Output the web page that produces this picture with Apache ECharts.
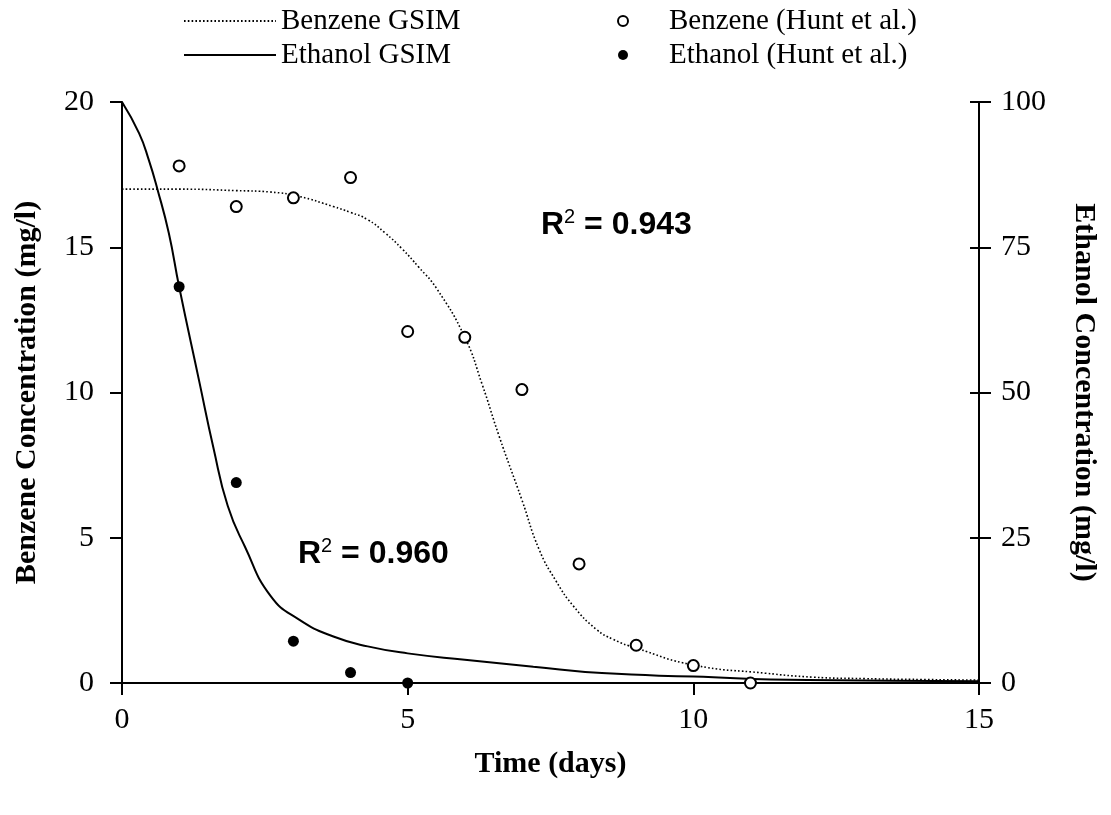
<!DOCTYPE html>
<html>
<head>
<meta charset="utf-8">
<title>Benzene and Ethanol Concentration</title>
<script src="https://cdn.jsdelivr.net/npm/echarts@6/dist/echarts.min.js"></script>
<style>
  html, body { margin: 0; padding: 0; background: #fff; }
  #chart { width: 1111px; height: 815px; }
</style>
</head>
<body>
<div id="chart"></div>
<script>
// Measured concentrations (Hunt et al.)
const obsDays = [1, 2, 3, 4, 5, 6, 7, 8, 9, 10, 11];
const benzeneObs = [17.8, 16.4, 16.7, 17.4, 12.1, 11.9, 10.1, 4.1, 1.3, 0.6, 0.0];
const ethanolObsDays = [1, 2, 3, 4, 5];
const ethanolObs = [68.2, 34.5, 7.2, 1.8, 0.0];

// GSIM model curves
const benzeneFitDays = [0, 1, 2, 2.6, 3.1, 3.7, 4.0, 4.3, 4.6, 4.9, 5.2, 5.5, 6.0, 6.3, 6.6, 7.0, 7.3, 7.6, 7.9, 8.3, 8.6, 9.0, 10, 11.25, 12.1, 13, 14, 15];
const benzeneFit = [17.0, 17.0, 16.95, 16.9, 16.75, 16.4, 16.2, 15.95, 15.5, 14.95, 14.3, 13.6, 11.9, 10.3, 8.5, 6.3, 4.6, 3.5, 2.65, 1.85, 1.5, 1.2, 0.62, 0.34, 0.2, 0.15, 0.12, 0.1];
const ethanolFitDays = [0, 0.3, 0.47, 0.62, 0.82, 1.0, 1.35, 1.6, 1.85, 2.15, 2.6, 3.1, 3.7, 4.3, 5.0, 6.0, 7.2, 8.4, 10, 12, 15];
const ethanolFit = [100, 94.6, 90, 85, 77.4, 68.2, 52, 40.5, 30.5, 23.5, 15, 10.9, 8.0, 6.3, 5.1, 4.0, 2.8, 1.7, 1.1, 0.5, 0.3];

// Axis ticks
const timeTicks = [0, 5, 10, 15];
const benzeneTicks = [0, 5, 10, 15, 20];
const ethanolTicks = [0, 25, 50, 75, 100];

const names = {
  benzeneFit: 'Benzene GSIM',
  ethanolFit: 'Ethanol GSIM',
  benzeneObs: 'Benzene (Hunt et al.)',
  ethanolObs: 'Ethanol (Hunt et al.)'
};
const fits = [
  { label: 'R', sup: '2', rest: ' = 0.943' },
  { label: 'R', sup: '2', rest: ' = 0.960' }
];

const zip = (xs, ys) => xs.map((x, i) => [x, ys[i]]);
const serif = "'Liberation Serif', 'Times New Roman', serif";
const sans = "'Liberation Sans', Arial, sans-serif";
const stepOf = t => t[1] - t[0];

const chart = echarts.init(document.getElementById('chart'), null, { renderer: 'canvas' });

const axisLine = { show: true, lineStyle: { color: '#000', width: 2 } };
const tickLabel = { color: '#000', fontFamily: serif, fontSize: 30 };
const nameStyle = { color: '#000', fontFamily: serif, fontSize: 30, fontWeight: 'bold' };

const richR = {
  a: { fontFamily: sans, fontSize: 32, fontWeight: 'bold', color: '#000', lineHeight: 36 },
  s: { fontFamily: sans, fontSize: 20, color: '#000', lineHeight: 18, verticalAlign: 'top' }
};
const rText = f => `{a|${f.label}}{s|${f.sup}}{a|${f.rest}}`;

chart.setOption({
  animation: false,
  backgroundColor: '#fff',
  grid: { left: 122, right: 132, top: 102, bottom: 132, containLabel: false },
  legend: [
    {
      // model curves: line sample only, no marker
      orient: 'vertical', left: 178, top: 1, itemGap: 4,
      itemWidth: 92, itemHeight: 14,
      itemStyle: { opacity: 0 },
      data: [names.benzeneFit, names.ethanolFit],
      textStyle: { color: '#000', fontFamily: serif, fontSize: 29, lineHeight: 30 }
    },
    {
      orient: 'vertical', left: 612, top: 1, itemGap: 4,
      itemWidth: 10, itemHeight: 10,
      data: [names.benzeneObs, names.ethanolObs],
      textStyle: { color: '#000', fontFamily: serif, fontSize: 29, lineHeight: 30, padding: [0, 0, 0, 36] }
    }
  ],
  xAxis: {
    type: 'value', min: timeTicks[0], max: timeTicks[timeTicks.length - 1], interval: stepOf(timeTicks),
    name: 'Time (days)', nameLocation: 'middle', nameGap: 66, nameTextStyle: nameStyle,
    axisLine: axisLine,
    axisTick: { show: true, inside: false, length: 12, lineStyle: { color: '#000', width: 2 } },
    axisLabel: Object.assign({ margin: 22 }, tickLabel),
    splitLine: { show: false }
  },
  yAxis: [
    {
      type: 'value', position: 'left', min: benzeneTicks[0], max: benzeneTicks[benzeneTicks.length - 1], interval: stepOf(benzeneTicks),
      name: 'Benzene Concentration (mg/l)', nameLocation: 'middle', nameGap: 80, nameRotate: 90, nameTextStyle: nameStyle,
      axisLine: axisLine,
      axisTick: { show: true, inside: false, length: 12, lineStyle: { color: '#000', width: 2 } },
      axisLabel: Object.assign({ margin: 28 }, tickLabel),
      splitLine: { show: false }
    },
    {
      type: 'value', position: 'right', min: ethanolTicks[0], max: ethanolTicks[ethanolTicks.length - 1], interval: stepOf(ethanolTicks),
      name: 'Ethanol Concentration (mg/l)', nameLocation: 'middle', nameGap: 90, nameRotate: -90, nameTextStyle: nameStyle,
      axisLine: axisLine,
      axisTick: { show: true, inside: false, length: 12, lineStyle: { color: '#000', width: 2 } },
      axisLabel: Object.assign({ margin: 22 }, tickLabel),
      splitLine: { show: false }
    },
    {
      // inner half of the crossing ticks on the ethanol axis
      type: 'value', position: 'right', min: ethanolTicks[0], max: ethanolTicks[ethanolTicks.length - 1], interval: stepOf(ethanolTicks),
      axisLine: { show: false },
      axisTick: { show: true, inside: true, length: 9, lineStyle: { color: '#000', width: 2 } },
      axisLabel: { show: false },
      splitLine: { show: false }
    }
  ],
  series: [
    {
      name: names.benzeneFit, type: 'line', yAxisIndex: 0,
      data: zip(benzeneFitDays, benzeneFit),
      symbol: 'none', smooth: 0.5,
      lineStyle: { color: '#000', width: 1.6, type: [1.6, 2.2] },
      itemStyle: { color: '#000' },
      z: 2
    },
    {
      name: names.ethanolFit, type: 'line', yAxisIndex: 1,
      data: zip(ethanolFitDays, ethanolFit),
      symbol: 'none', smooth: 0.5,
      lineStyle: { color: '#000', width: 2 },
      itemStyle: { color: '#000' },
      z: 2
    },
    {
      name: names.benzeneObs, type: 'scatter', yAxisIndex: 0,
      data: zip(obsDays, benzeneObs),
      symbol: 'circle', symbolSize: 11,
      itemStyle: { color: '#fff', borderColor: '#000', borderWidth: 2, opacity: 1 },
      z: 4
    },
    {
      name: names.ethanolObs, type: 'scatter', yAxisIndex: 1,
      data: zip(ethanolObsDays, ethanolObs),
      symbol: 'circle', symbolSize: 11,
      itemStyle: { color: '#000', opacity: 1 },
      z: 4
    }
  ],
  graphic: [
    { type: 'text', left: 541, top: 207, z: 10, style: { text: rText(fits[0]), rich: richR } },
    { type: 'text', left: 298, top: 536, z: 10, style: { text: rText(fits[1]), rich: richR } }
  ]
});
</script>
</body>
</html>
